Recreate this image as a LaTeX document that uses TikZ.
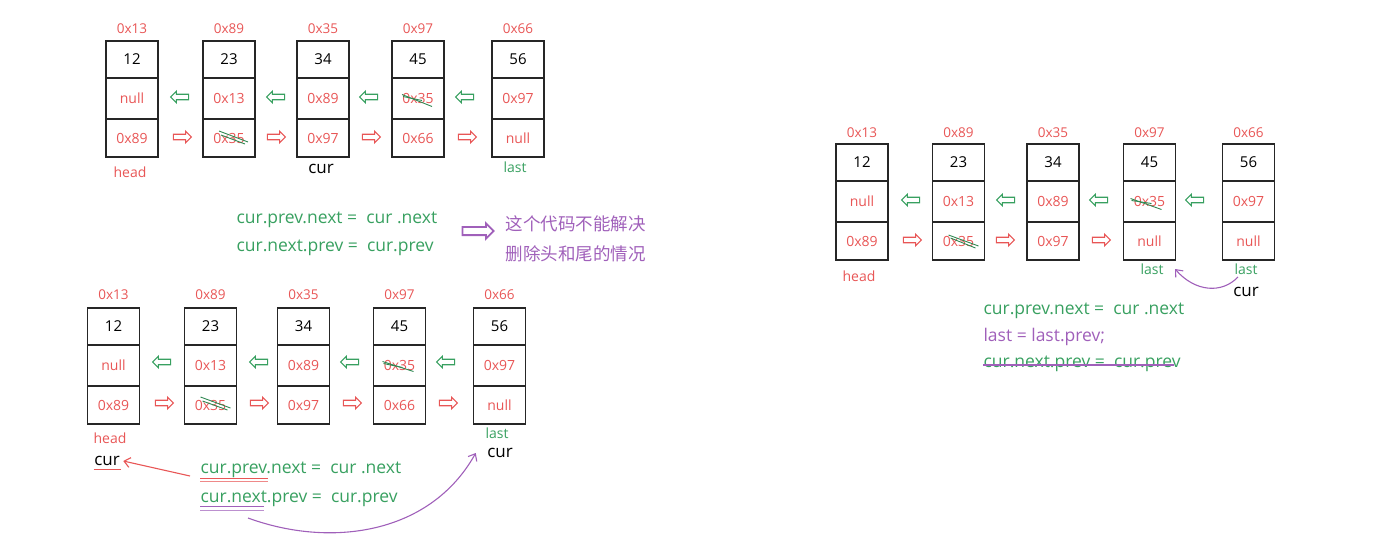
\documentclass[tikz,border=0pt]{standalone}
\usepackage{fontspec}
\setmainfont{Open Sans}
\newfontfamily\cjk{Noto Sans CJK SC}
\usetikzlibrary{shapes.arrows,arrows.meta}
\definecolor{ptrred}{RGB}{232,86,86}
\definecolor{lnkgreen}{RGB}{56,160,96}
\definecolor{notepurple}{RGB}{160,96,186}

\begin{document}
\begin{tikzpicture}[x=1pt, y=-1pt,
  cell/.style={rectangle, draw=black!85, line width=1.3pt, minimum width=52pt,
    inner sep=0pt, font=\fontsize{14}{16}\selectfont},
  val/.style={cell, minimum height=37pt, font=\fontsize{15}{17}\selectfont},
  ptr/.style={cell, minimum height=41pt, text=ptrred},
  nxt/.style={cell, minimum height=38pt, text=ptrred},
  addr/.style={font=\fontsize{13.5}{15}\selectfont, text=ptrred},
  tag/.style={font=\fontsize{14}{16}\selectfont},
  curtag/.style={font=\fontsize{17}{19}\selectfont, text=black},
  code/.style={font=\fontsize{17.5}{20}\selectfont, text=lnkgreen, anchor=west},
  note/.style={font=\cjk\fontsize{17.5}{20}\selectfont, text=notepurple, anchor=west},
  larr/.style={single arrow, draw=lnkgreen, line width=1.1pt, inner sep=2.2pt,
    minimum height=18pt, single arrow head extend=3pt, shape border rotate=180},
  rarr/.style={single arrow, draw=ptrred, line width=1.1pt, inner sep=2.2pt,
    minimum height=18pt, single arrow head extend=3pt},
  scr/.style={draw=lnkgreen!85!black, line width=0.9pt},
  curve/.style={draw=notepurple, line width=1.1pt, -{Straight Barb[length=6pt,width=10pt]}},
]
\useasboundingbox (0,0) rectangle (1380,554);

% First list: general case
\node[addr] (a1a) at (132,29) {0x13};
\node[val] (a1v) at (132,59.5) {12};
\node[ptr] (a1p) at (132,98.5) {null};
\node[nxt] (a1n) at (132,138) {0x89};
\node[addr] (a2a) at (229,29) {0x89};
\node[val] (a2v) at (229,59.5) {23};
\node[ptr] (a2p) at (229,98.5) {0x13};
\node[nxt] (a2n) at (229,138) {0x35};
\node[addr] (a3a) at (323,29) {0x35};
\node[val] (a3v) at (323,59.5) {34};
\node[ptr] (a3p) at (323,98.5) {0x89};
\node[nxt] (a3n) at (323,138) {0x97};
\node[addr] (a4a) at (418,29) {0x97};
\node[val] (a4v) at (418,59.5) {45};
\node[ptr] (a4p) at (418,98.5) {0x35};
\node[nxt] (a4n) at (418,138) {0x66};
\node[addr] (a5a) at (518,29) {0x66};
\node[val] (a5v) at (518,59.5) {56};
\node[ptr] (a5p) at (518,98.5) {0x97};
\node[nxt] (a5n) at (518,138) {null};

\node[larr] (a12l) at (181,97) {};
\node[rarr] (a12r) at (181,137) {};
\node[larr] (a23l) at (277,97) {};
\node[rarr] (a23r) at (275,137) {};
\node[larr] (a34l) at (370,97) {};
\node[rarr] (a34r) at (370,137) {};
\node[larr] (a45l) at (466,97) {};
\node[rarr] (a45r) at (466,137) {};

\draw[scr] ([shift={(-10,-7)}]a2n.center) -- ([shift={(19,4)}]a2n.center);
\draw[scr] ([shift={(-8,-3)}]a2n.center) -- ([shift={(16,6)}]a2n.center);
\draw[scr] ([shift={(-16,-4)}]a4p.center) -- ([shift={(14,8)}]a4p.center);
\draw[scr] ([shift={(-15,-2)}]a4p.center) -- ([shift={(4,2)}]a4p.center);

\node[tag, text=ptrred] (ahead) at (130,172) {head};
\node[curtag] (acur) at (321,169) {cur};
\node[tag, text=lnkgreen] (alast) at (515,167) {last};

% Code and remark
\node[code] (c1) at (233,220) {cur.prev.next = \ cur .next};
\node[code] (c2) at (233,248) {cur.next.prev = \ cur.prev};
\node[single arrow, draw=notepurple, line width=1.8pt, inner sep=3.2pt,
  minimum height=31pt, single arrow head extend=3.5pt] (warn) at (476,231) {};
\node[note] (n1) at (502,224) {这个代码不能解决};
\node[note] (n2) at (502,254) {删除头和尾的情况};

% Second list: delete head or tail
\node[addr] (b1a) at (113.5,295) {0x13};
\node[val] (b1v) at (113.5,326.5) {12};
\node[ptr] (b1p) at (113.5,365.5) {null};
\node[nxt] (b1n) at (113.5,405) {0x89};
\node[addr] (b2a) at (210.5,295) {0x89};
\node[val] (b2v) at (210.5,326.5) {23};
\node[ptr] (b2p) at (210.5,365.5) {0x13};
\node[nxt] (b2n) at (210.5,405) {0x35};
\node[addr] (b3a) at (303.5,295) {0x35};
\node[val] (b3v) at (303.5,326.5) {34};
\node[ptr] (b3p) at (303.5,365.5) {0x89};
\node[nxt] (b3n) at (303.5,405) {0x97};
\node[addr] (b4a) at (399.5,295) {0x97};
\node[val] (b4v) at (399.5,326.5) {45};
\node[ptr] (b4p) at (399.5,365.5) {0x35};
\node[nxt] (b4n) at (399.5,405) {0x66};
\node[addr] (b5a) at (499.5,295) {0x66};
\node[val] (b5v) at (499.5,326.5) {56};
\node[ptr] (b5p) at (499.5,365.5) {0x97};
\node[nxt] (b5n) at (499.5,405) {null};

\node[larr] (b12l) at (163,362) {};
\node[rarr] (b12r) at (163,403) {};
\node[larr] (b23l) at (260,362) {};
\node[rarr] (b23r) at (258,403) {};
\node[larr] (b34l) at (351,362) {};
\node[rarr] (b34r) at (351,403) {};
\node[larr] (b45l) at (447,362) {};
\node[rarr] (b45r) at (447,403) {};

\draw[scr] ([shift={(-10,-8)}]b2n.center) -- ([shift={(20,3)}]b2n.center);
\draw[scr] ([shift={(-8,-4)}]b2n.center) -- ([shift={(17,5)}]b2n.center);
\draw[scr] ([shift={(-17,-4)}]b4p.center) -- ([shift={(14,6)}]b4p.center);
\draw[scr] ([shift={(-16,-2)}]b4p.center) -- ([shift={(3,2)}]b4p.center);

\node[tag, text=ptrred] (bhead) at (110,438) {head};
\node[tag, text=lnkgreen] (blast) at (497,433) {last};
\node[curtag] (bcur1) at (107,461) {cur};
\node[curtag] (bcur2) at (500,453) {cur};
\draw[ptrred, line width=1pt] (bcur1.south west) ++(3,0) -- ++(27,0);

\node[code] (c3) at (197,470) {cur.prev.next = \ cur .next};
\node[code] (c4) at (197,499) {cur.next.prev = \ cur.prev};
\draw[ptrred, line width=1pt] ([shift={(3,-3)}]c3.south west) -- ++(68,0);
\draw[ptrred!70, line width=1pt] ([shift={(3,0)}]c3.south west) -- ++(68,0);
\draw[notepurple, line width=1pt] ([shift={(3,-4)}]c4.south west) -- ++(64,0);
\draw[notepurple!70, line width=1pt] ([shift={(3,0)}]c4.south west) -- ++(64,0);
\coordinate (bfrom) at (248,518);
\coordinate (bred) at (190,476);
\draw[curve, draw=ptrred] (bred) -- (bcur1.east);
\draw[curve] (bfrom) .. controls (330,548) and (430,535) .. ([xshift=-8pt]bcur2.west);

% Third list: delete the tail
\node[addr] (r1a) at (862,133) {0x13};
\node[val] (r1v) at (862,162.5) {12};
\node[ptr] (r1p) at (862,201.5) {null};
\node[nxt] (r1n) at (862,241) {0x89};
\node[addr] (r2a) at (958.5,133) {0x89};
\node[val] (r2v) at (958.5,162.5) {23};
\node[ptr] (r2p) at (958.5,201.5) {0x13};
\node[nxt] (r2n) at (958.5,241) {0x35};
\node[addr] (r3a) at (1053,133) {0x35};
\node[val] (r3v) at (1053,162.5) {34};
\node[ptr] (r3p) at (1053,201.5) {0x89};
\node[nxt] (r3n) at (1053,241) {0x97};
\node[addr] (r4a) at (1149.5,133) {0x97};
\node[val] (r4v) at (1149.5,162.5) {45};
\node[ptr] (r4p) at (1149.5,201.5) {0x35};
\node[nxt] (r4n) at (1149.5,241) {null};
\node[addr] (r5a) at (1248.5,133) {0x66};
\node[val] (r5v) at (1248.5,162.5) {56};
\node[ptr] (r5p) at (1248.5,201.5) {0x97};
\node[nxt] (r5n) at (1248.5,241) {null};

\node[larr] (r12l) at (912,200) {};
\node[rarr] (r12r) at (911,240) {};
\node[larr] (r23l) at (1007,200) {};
\node[rarr] (r23r) at (1004,240) {};
\node[larr] (r34l) at (1100,200) {};
\node[rarr] (r34r) at (1100,240) {};
\node[larr] (r45l) at (1196,200) {};

\draw[scr] ([shift={(-10,-6)}]r2n.center) -- ([shift={(20,5)}]r2n.center);
\draw[scr] ([shift={(-8,-3)}]r2n.center) -- ([shift={(17,7)}]r2n.center);
\draw[scr] ([shift={(-19,-3)}]r4p.center) -- ([shift={(12,8)}]r4p.center);
\draw[scr] ([shift={(-18,-1)}]r4p.center) -- ([shift={(2,2)}]r4p.center);

\node[tag, text=ptrred] (rhead) at (859,276) {head};
\node[tag, text=lnkgreen] (rlast1) at (1152,269) {last};
\node[tag, text=lnkgreen] (rlast2) at (1246,269) {last};
\node[curtag] (rcur) at (1246,292) {cur};
\draw[curve] ([shift={(-8,-1)}]rlast2.south) .. controls (1222,294) and (1195,292) .. ([xshift=8pt]rlast1.east);

\node[code] (c5) at (980,311) {cur.prev.next = \ cur .next};
\node[code, text=notepurple] (c6) at (980,337) {last = last.prev;};
\node[code] (c7) at (980,364) {cur.next.prev = \ cur.prev};
\draw[notepurple, line width=1.3pt] ([shift={(3,1)}]c7.west) -- ([shift={(-10,1)}]c7.east);

\end{tikzpicture}
\end{document}
